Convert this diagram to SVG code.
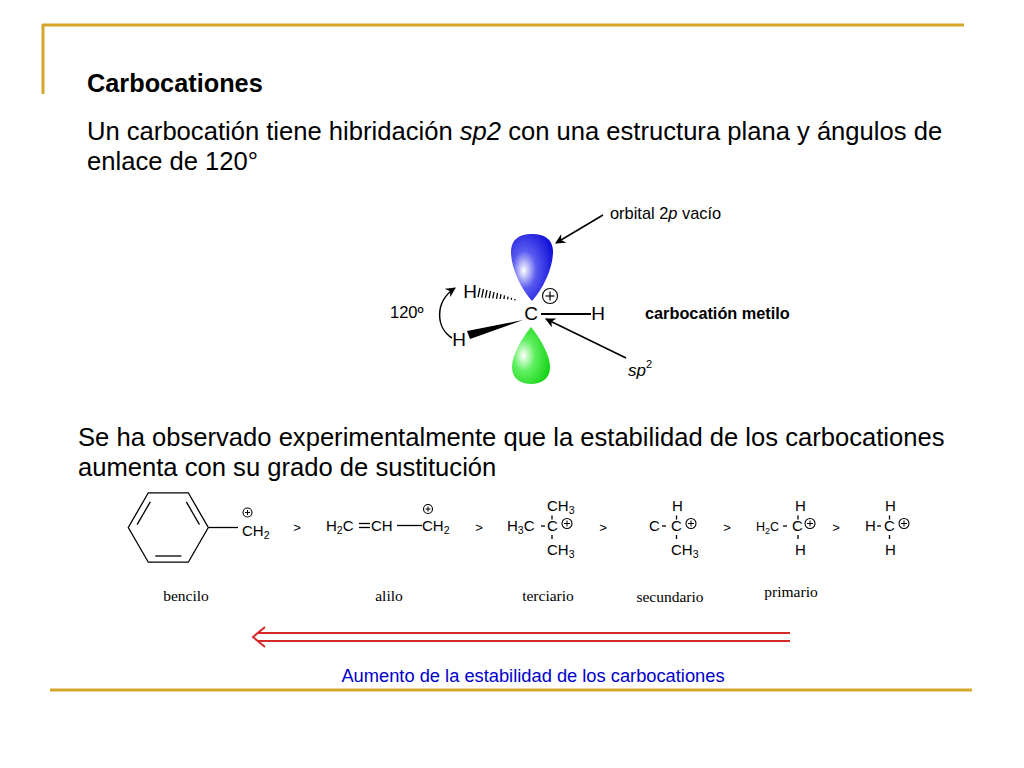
<svg xmlns="http://www.w3.org/2000/svg" width="1024" height="768" viewBox="0 0 1024 768">
<defs>
<style>
.t{font-family:"Liberation Sans",Arial,sans-serif;fill:#000}
.body{font-size:25.6px}
.chem{font-size:15px}
.lab{font-family:"Liberation Serif","Times New Roman",serif;font-size:15.5px;fill:#000}
.bond{stroke:#000;stroke-width:1.3;fill:none}
.gold{stroke:#D4A62A;stroke-width:3;fill:none}
.plus{fill:none;stroke:#000;stroke-width:1.1}
.arr{stroke:#000;stroke-width:1.5;fill:none}
</style>
<radialGradient id="gBlue" cx="0.35" cy="0.5" r="0.7" fx="0.3" fy="0.55">
<stop offset="0" stop-color="#ffffff"/>
<stop offset="0.4" stop-color="#5a5af0"/>
<stop offset="1" stop-color="#0c0cd8"/>
</radialGradient>
<radialGradient id="gGreen" cx="0.35" cy="0.5" r="0.7" fx="0.3" fy="0.5">
<stop offset="0" stop-color="#ffffff"/>
<stop offset="0.4" stop-color="#60f060"/>
<stop offset="1" stop-color="#10d010"/>
</radialGradient>
<marker id="ah" viewBox="0 0 10 10" refX="9" refY="5" markerWidth="10" markerHeight="10" markerUnits="userSpaceOnUse" orient="auto">
<path d="M0,0 L10,5 L0,10 L3,5 Z" fill="#000"/>
</marker>
</defs>
<rect width="1024" height="768" fill="#fff"/>

<g id="frame">
<line class="gold" x1="42" y1="25" x2="964" y2="25"/>
<line class="gold" x1="43" y1="24" x2="43" y2="94"/>
<line class="gold" x1="50" y1="690" x2="972" y2="690"/>
</g>

<g id="heading">
<text class="t" x="87" y="92" font-size="25.3" font-weight="bold">Carbocationes</text>
<text class="t body" x="87" y="140">Un carbocatión tiene hibridación <tspan font-style="italic">sp2</tspan> con una estructura plana y ángulos de</text>
<text class="t body" x="87" y="170">enlace de 120°</text>
</g>

<g id="methyl-cation-3d">
<path d="M532,301 C521,289 511,268 511,252 C511,239 520,234 532,234 C544,234 553,239 553,252 C553,268 543,289 532,301 Z" fill="url(#gBlue)"/>
<path d="M531,327 C521,339 512,356 512,367 C512,379 521,384 531,384 C541,384 550,379 550,367 C550,356 541,339 531,327 Z" fill="url(#gGreen)"/>
<text class="t" x="531" y="320" font-size="19" text-anchor="middle">C</text>
<text class="t" x="598" y="320" font-size="19" text-anchor="middle">H</text>
<text class="t" x="470" y="298" font-size="19" text-anchor="middle">H</text>
<text class="t" x="459" y="346" font-size="19" text-anchor="middle">H</text>
<line x1="541" y1="314" x2="591" y2="314" stroke="#000" stroke-width="2"/>
<polygon points="523,320 467,331 470,339" fill="#000"/>
<g stroke="#000" stroke-width="1.3">
<line x1="480" y1="288" x2="478" y2="297"/>
<line x1="483.5" y1="289" x2="481.7" y2="297.6"/>
<line x1="487" y1="290" x2="485.4" y2="297.8"/>
<line x1="490.5" y1="291" x2="489.1" y2="298.2"/>
<line x1="494" y1="292" x2="492.8" y2="298.4"/>
<line x1="497.5" y1="293" x2="496.5" y2="298.8"/>
<line x1="501" y1="294.2" x2="500.2" y2="299"/>
<line x1="504.5" y1="295.4" x2="503.9" y2="299.2"/>
<line x1="508" y1="296.6" x2="507.6" y2="299.4"/>
<line x1="511.5" y1="297.8" x2="511.3" y2="299.8"/>
<line x1="515" y1="299" x2="514.9" y2="300.4"/>
</g>
<circle class="plus" cx="550" cy="296" r="7.5"/>
<line x1="545.5" y1="296" x2="554.5" y2="296" stroke="#000" stroke-width="1.2"/>
<line x1="550" y1="291.5" x2="550" y2="300.5" stroke="#000" stroke-width="1.2"/>
<text class="t" x="390" y="318" font-size="16.5">120º</text>
<path class="arr" d="M452,338 C436,328 434,302 455,288" marker-end="url(#ah)"/>
<line class="arr" x1="603" y1="215" x2="556" y2="243" marker-end="url(#ah)"/>
<text class="t" x="610" y="219" font-size="16.4">orbital 2<tspan font-style="italic">p</tspan> vacío</text>
<line class="arr" x1="626" y1="358" x2="546" y2="319" marker-end="url(#ah)"/>
<text class="t" x="628" y="376" font-size="17" font-style="italic">sp<tspan font-size="11" dy="-8" font-style="normal">2</tspan></text>
<text class="t" x="645" y="319" font-size="16.3" font-weight="bold">carbocatión metilo</text>
</g>

<g id="observation">
<text class="t body" x="78" y="446">Se ha observado experimentalmente que la estabilidad de los carbocationes</text>
<text class="t body" x="78" y="476">aumenta con su grado de sustitución</text>
</g>

<g id="bencilo">
<polygon class="bond" points="148.3,492.8 188.3,492.8 208.3,527.5 188.3,562.2 148.3,562.2 128.3,527.5"/>
<line class="bond" x1="137.1" y1="524.6" x2="150.3" y2="501.9"/>
<line class="bond" x1="186.3" y1="501.9" x2="199.5" y2="524.6"/>
<line class="bond" x1="181.4" y1="556" x2="155.2" y2="556"/>
<line class="bond" x1="208.3" y1="527.5" x2="238" y2="527.5"/>
<text class="t chem" x="242" y="536">CH<tspan font-size="10.5" dy="3">2</tspan></text>
<circle class="plus" cx="247.5" cy="512.5" r="4.5"/>
<line x1="245" y1="512.5" x2="250" y2="512.5" stroke="#000" stroke-width="1"/>
<line x1="247.5" y1="510" x2="247.5" y2="515" stroke="#000" stroke-width="1"/>
<text class="lab" x="186" y="601" text-anchor="middle">bencilo</text>
</g>

<g id="alilo">
<text class="t chem" x="326" y="531">H<tspan font-size="10.5" dy="3">2</tspan><tspan dy="-3">C</tspan></text>
<line class="bond" x1="359" y1="523.5" x2="370" y2="523.5"/>
<line class="bond" x1="359" y1="527.5" x2="370" y2="527.5"/>
<text class="t chem" x="371" y="531">CH</text>
<line class="bond" x1="397" y1="525.5" x2="422" y2="525.5"/>
<text class="t chem" x="422" y="531">CH<tspan font-size="10.5" dy="3">2</tspan></text>
<circle class="plus" cx="428" cy="509" r="4.5"/>
<line x1="425.5" y1="509" x2="430.5" y2="509" stroke="#000" stroke-width="1"/>
<line x1="428" y1="506.5" x2="428" y2="511.5" stroke="#000" stroke-width="1"/>
<text class="lab" x="389" y="601" text-anchor="middle">alilo</text>
</g>

<g id="terciario">
<text class="t chem" x="547" y="511">CH<tspan font-size="10.5" dy="3">3</tspan></text>
<text class="t chem" x="507" y="531">H<tspan font-size="10.5" dy="3">3</tspan><tspan dy="-3">C</tspan></text>
<line class="bond" x1="541" y1="526" x2="545" y2="526"/>
<text class="t chem" x="547" y="531">C</text>
<line class="bond" x1="552" y1="515.5" x2="552" y2="519.5"/>
<line class="bond" x1="552" y1="535" x2="552" y2="539"/>
<text class="t chem" x="547" y="555">CH<tspan font-size="10.5" dy="3">3</tspan></text>
<circle class="plus" cx="567" cy="523.5" r="5"/>
<line x1="564" y1="523.5" x2="570" y2="523.5" stroke="#000" stroke-width="1"/>
<line x1="567" y1="520.5" x2="567" y2="526.5" stroke="#000" stroke-width="1"/>
<text class="lab" x="548" y="601" text-anchor="middle">terciario</text>
</g>

<g id="secundario">
<text class="t chem" x="672" y="511">H</text>
<text class="t chem" x="649" y="531">C</text>
<line class="bond" x1="662" y1="526" x2="666" y2="526"/>
<text class="t chem" x="671" y="531">C</text>
<line class="bond" x1="676.5" y1="515.5" x2="676.5" y2="519.5"/>
<line class="bond" x1="676.5" y1="535" x2="676.5" y2="539"/>
<text class="t chem" x="671" y="555">CH<tspan font-size="10.5" dy="3">3</tspan></text>
<circle class="plus" cx="691" cy="523.5" r="5"/>
<line x1="688" y1="523.5" x2="694" y2="523.5" stroke="#000" stroke-width="1"/>
<line x1="691" y1="520.5" x2="691" y2="526.5" stroke="#000" stroke-width="1"/>
<text class="lab" x="670" y="602" text-anchor="middle">secundario</text>
</g>

<g id="primario">
<text class="t chem" x="795" y="511">H</text>
<text class="t" x="756" y="531" font-size="12.5">H<tspan font-size="9" dy="3">2</tspan><tspan dy="-3">C</tspan></text>
<line class="bond" x1="783" y1="526" x2="787" y2="526"/>
<text class="t chem" x="792" y="531">C</text>
<line class="bond" x1="798" y1="515.5" x2="798" y2="519.5"/>
<line class="bond" x1="798" y1="535" x2="798" y2="539"/>
<text class="t chem" x="795" y="555">H</text>
<circle class="plus" cx="810" cy="523.5" r="5"/>
<line x1="807" y1="523.5" x2="813" y2="523.5" stroke="#000" stroke-width="1"/>
<line x1="810" y1="520.5" x2="810" y2="526.5" stroke="#000" stroke-width="1"/>
<text class="lab" x="791" y="597" text-anchor="middle">primario</text>
</g>

<g id="metilo">
<text class="t chem" x="885" y="511">H</text>
<text class="t chem" x="865" y="531">H</text>
<line class="bond" x1="877" y1="526" x2="881" y2="526"/>
<text class="t chem" x="884" y="531">C</text>
<line class="bond" x1="889.5" y1="515.5" x2="889.5" y2="519.5"/>
<line class="bond" x1="889.5" y1="535" x2="889.5" y2="539"/>
<text class="t chem" x="885" y="555">H</text>
<circle class="plus" cx="904" cy="523.5" r="5"/>
<line x1="901" y1="523.5" x2="907" y2="523.5" stroke="#000" stroke-width="1"/>
<line x1="904" y1="520.5" x2="904" y2="526.5" stroke="#000" stroke-width="1"/>
</g>

<g id="connectors">
<g class="t" font-size="13">
<text x="297" y="532" text-anchor="middle">&gt;</text>
<text x="479" y="532" text-anchor="middle">&gt;</text>
<text x="603" y="532" text-anchor="middle">&gt;</text>
<text x="727" y="532" text-anchor="middle">&gt;</text>
<text x="836" y="532" text-anchor="middle">&gt;</text>
</g>
<g stroke="#D42A2A" stroke-width="2" fill="none">
<line x1="258" y1="633" x2="790" y2="633"/>
<line x1="258" y1="641" x2="790" y2="641"/>
<polyline points="265,627 253,637 265,647"/>
</g>
</g>

<text id="caption" x="533" y="682" font-family="'Liberation Sans',Arial,sans-serif" font-size="18.3" fill="#0000CC" text-anchor="middle">Aumento de la estabilidad de los carbocationes</text>
</svg>
